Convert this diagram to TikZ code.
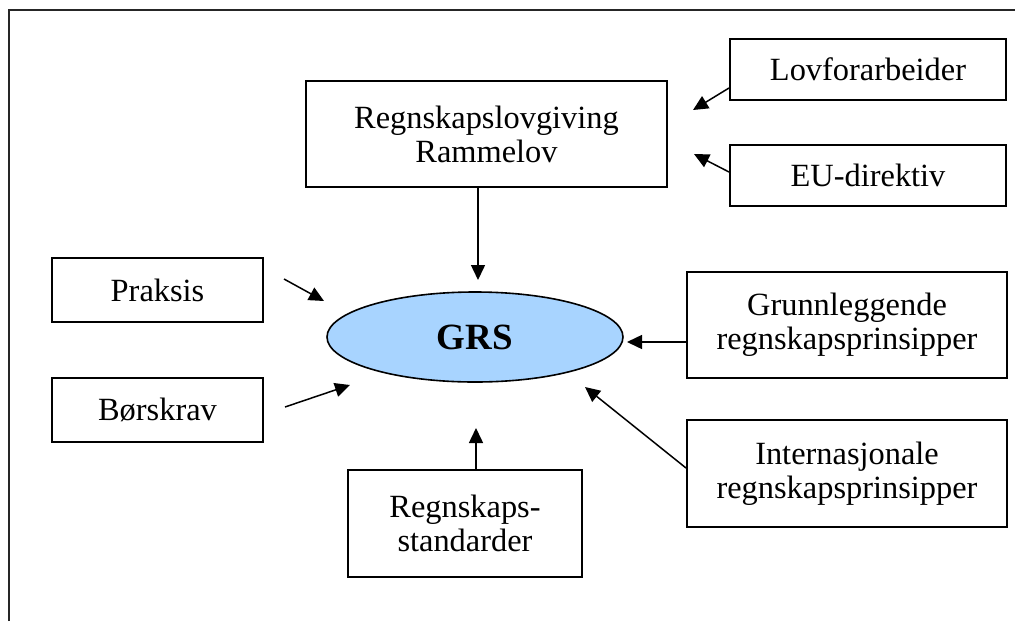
\documentclass[tikz,border=0pt]{standalone}
\usepackage{fontspec}
\setmainfont{Liberation Serif}
\usetikzlibrary{arrows.meta,shapes.geometric}

\definecolor{grsblue}{RGB}{168,212,255}

\begin{document}
\begin{tikzpicture}[x=0.5pt,y=-0.5pt,
    box/.style={draw, line width=1pt, align=center, inner sep=0pt,
        font=\fontsize{16.2}{17}\selectfont},
    arr/.style={line width=0.75pt, -{Triangle[length=7.5pt,width=7pt]}}]
        \useasboundingbox (0,0) rectangle (1015,621);
        % frame
        \draw[line width=1pt, black!85] (9,621) -- (9,10) -- (1015,10);

        \node[box, minimum width=180.5pt, minimum height=53pt] (law) at (486.5,134) {Regnskapslovgiving\\Rammelov};
        \node[box, minimum width=138pt, minimum height=30.5pt] (lovf) at (868,69.5) {Lovforarbeider};
        \node[box, minimum width=138pt, minimum height=30.5pt] (eu) at (868,175.5) {EU-direktiv};
        \node[box, minimum width=105.5pt, minimum height=32pt] (praksis) at (157.5,290) {Praksis};
        \node[box, minimum width=105.5pt, minimum height=32pt] (bors) at (157.5,410) {Børskrav};
        \node[box, minimum width=160pt, minimum height=53pt] (grunn) at (847,325) {Grunnleggende\\regnskapsprinsipper};
        \node[box, minimum width=160pt, minimum height=53.5pt] (intl) at (847,473.5) {Internasjonale\\regnskapsprinsipper};
        \node[box, minimum width=117pt, minimum height=53.5pt] (std) at (465,523.5) {Regnskaps-\\standarder};
        \node[ellipse, draw, line width=0.8pt, fill=grsblue, inner sep=0pt,
            minimum width=148pt, minimum height=45pt,
            font=\fontsize{18.5}{20}\selectfont\bfseries] (grs) at (475,337) {GRS};

        % free ends of the arrows
        \coordinate (tlaw) at (478,280);
        \coordinate (tlovf) at (693,110);
        \coordinate (teu) at (694,154);
        \coordinate (sprak) at (284,279);
        \coordinate (tprak) at (324,301);
        \coordinate (sbors) at (285,407);
        \coordinate (tbors) at (350,385);
        \coordinate (tgrunn) at (627,342);
        \coordinate (tintl) at (585,387);
        \coordinate (tstd) at (476,428);

        \draw[arr] (law.south -| tlaw) -- (tlaw);
        \draw[arr] (lovf.west) ++(0,18.5) -- (tlovf);
        \draw[arr] (eu.west) ++(0,-3.5) -- (teu);
        \draw[arr] (sprak) -- (tprak);
        \draw[arr] (sbors) -- (tbors);
        \draw[arr] (grunn.west |- tgrunn) -- (tgrunn);
        \draw[arr] (intl.west) ++(0,-5.5) -- (tintl);
        \draw[arr] (std.north -| tstd) -- (tstd);

    \end{tikzpicture}
\end{document}
